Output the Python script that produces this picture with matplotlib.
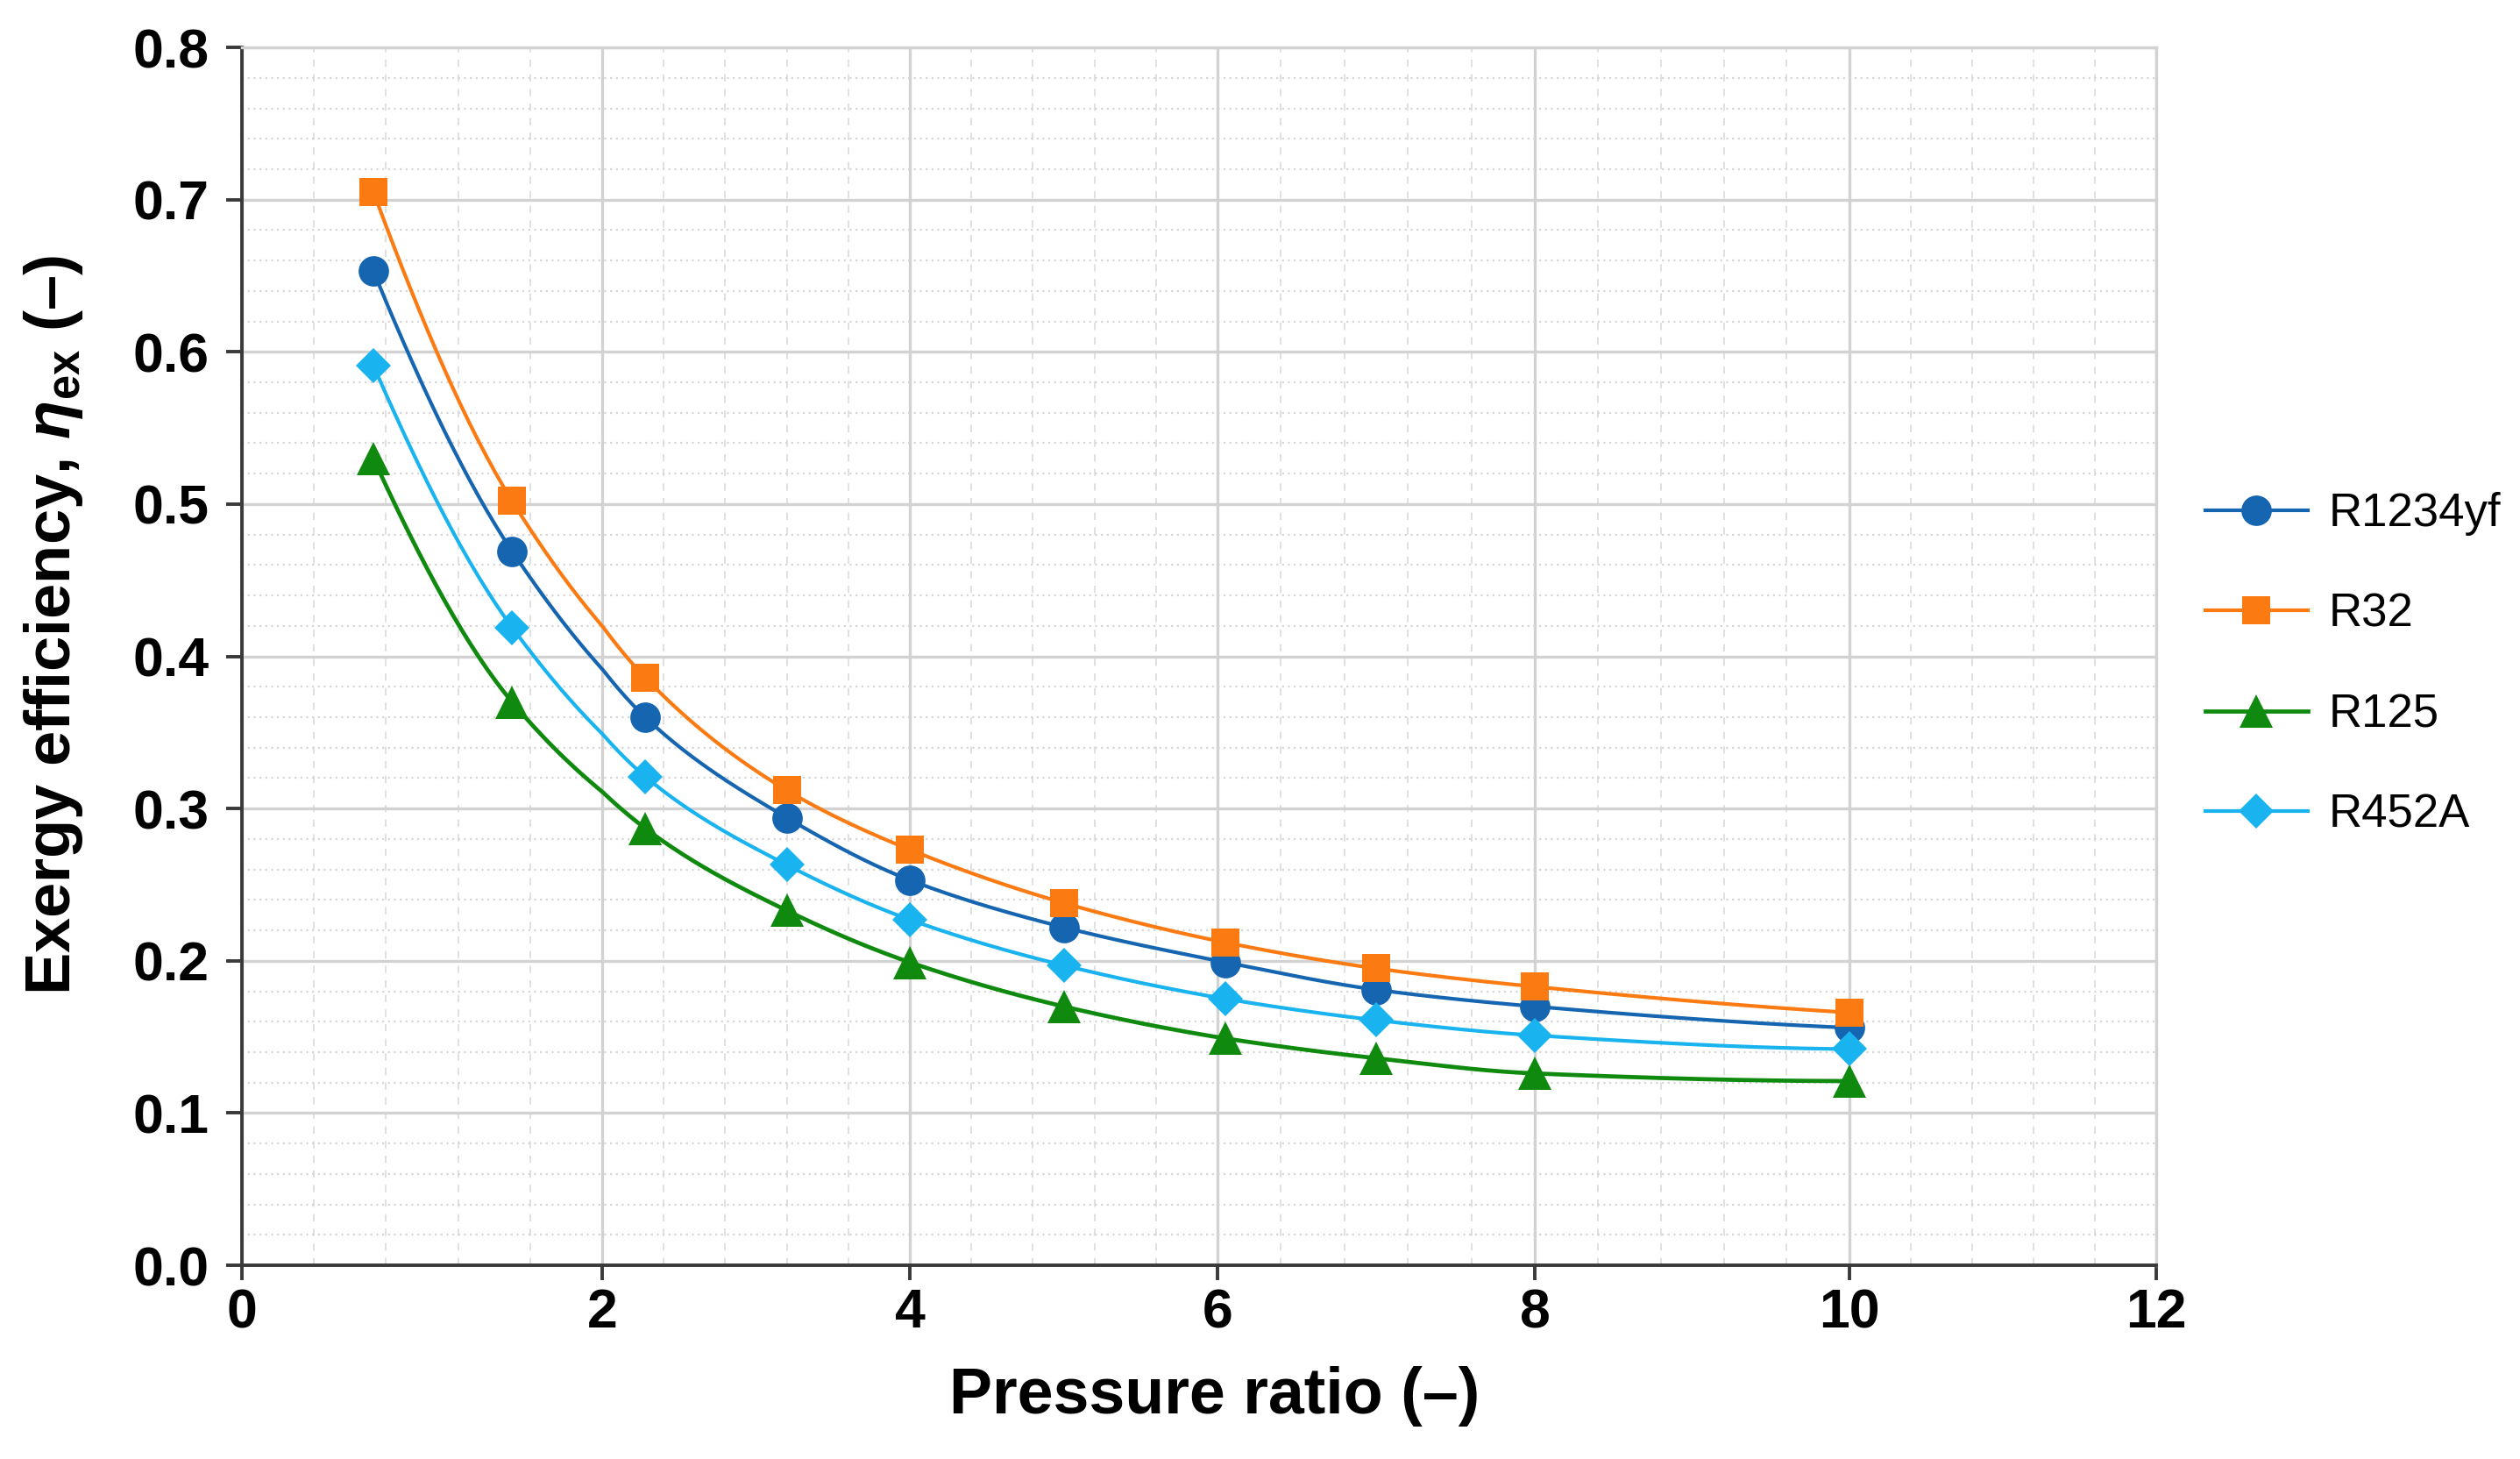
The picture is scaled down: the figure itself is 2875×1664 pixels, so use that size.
import numpy as np
import matplotlib
matplotlib.use("Agg")
import matplotlib.pyplot as plt
from matplotlib.ticker import MultipleLocator, FixedLocator, FormatStrFormatter

# data
pressure_ratio = [0.73, 1.5, 2.28, 3.2, 4.0, 5.0, 6.05, 7.0, 8.0, 10.0]
eff_r1234yf = [0.653, 0.469, 0.360, 0.294, 0.253, 0.222, 0.199, 0.181, 0.170, 0.156]
eff_r32 = [0.705, 0.502, 0.386, 0.312, 0.273, 0.238, 0.212, 0.195, 0.183, 0.166]
eff_r125 = [0.530, 0.370, 0.287, 0.233, 0.199, 0.170, 0.149, 0.136, 0.126, 0.121]
eff_r452a = [0.591, 0.419, 0.321, 0.263, 0.227, 0.197, 0.175, 0.161, 0.151, 0.142]

series_names = ["R1234yf", "R32", "R125", "R452A"]
series_vals = [eff_r1234yf, eff_r32, eff_r125, eff_r452a]
colors = ["#1565b0", "#fb7a12", "#0f8a0f", "#19b4f0"]
markers = ["o", "s", "^", "D"]
msizes = [25, 23, 28, 20]
lwidths = [3.0, 3.0, 3.4, 3.0]

# the original x axis is not evenly spaced (0-2 is wider than the rest)
x_knots = [0, 2, 4, 6, 8, 10, 12]
x_span = [0, 411, 762, 1113, 1475, 1834, 2184]

plt.rcParams["font.family"] = ["Liberation Sans", "DejaVu Sans"]
plt.rcParams["mathtext.fontset"] = "custom"
plt.rcParams["mathtext.rm"] = "Liberation Sans:bold"
plt.rcParams["mathtext.bf"] = "Liberation Sans:bold"
plt.rcParams["mathtext.it"] = "Liberation Sans:italic:bold"
plt.rcParams["mathtext.bfit"] = "Liberation Sans:italic:bold"


def fwd(x):
    return np.interp(x, x_knots, x_span, left=np.nan, right=np.nan)


def inv(u):
    return np.interp(u, x_span, x_knots, left=np.nan, right=np.nan)


# smooth line through the points (monotone cubic, like a smoothed excel line)
def smooth(x, y, n=400):
    x = np.asarray(x, float)
    y = np.asarray(y, float)
    h = np.diff(x)
    d = np.diff(y) / h
    m = np.zeros_like(y)
    for k in range(1, len(x) - 1):
        if d[k - 1] * d[k] > 0:
            w1 = 2 * h[k] + h[k - 1]
            w2 = h[k] + 2 * h[k - 1]
            m[k] = (w1 + w2) / (w1 / d[k - 1] + w2 / d[k])
    m0 = ((2 * h[0] + h[1]) * d[0] - h[0] * d[1]) / (h[0] + h[1])
    m[0] = m0 if np.sign(m0) == np.sign(d[0]) else 0
    mn = ((2 * h[-1] + h[-2]) * d[-1] - h[-1] * d[-2]) / (h[-1] + h[-2])
    m[-1] = mn if np.sign(mn) == np.sign(d[-1]) else 0
    xs = np.linspace(x[0], x[-1], n)
    idx = np.clip(np.searchsorted(x, xs) - 1, 0, len(x) - 2)
    t = (xs - x[idx]) / h[idx]
    h00 = 2 * t**3 - 3 * t**2 + 1
    h10 = t**3 - 2 * t**2 + t
    h01 = -2 * t**3 + 3 * t**2
    h11 = t**3 - t**2
    ys = h00 * y[idx] + h10 * h[idx] * m[idx] + h01 * y[idx + 1] + h11 * h[idx] * m[idx + 1]
    return xs, ys


fig = plt.figure(figsize=(28.75, 16.64), dpi=100)
ax = fig.add_axes([0.096, 0.1328, 0.7597, 0.8347])
ax.set_xscale("function", functions=(fwd, inv))

for name, vals, c, mk, ms, lw in zip(series_names, series_vals, colors, markers, msizes, lwidths):
    xs, ys = smooth(pressure_ratio, vals)
    ax.plot(xs, ys, color=c, lw=lw, zorder=3)
    ax.plot(pressure_ratio, vals, linestyle="none", marker=mk, markersize=ms,
            color=c, markeredgewidth=0, zorder=4)
    # legend handle
    ax.plot([], [], color=c, lw=lw, marker=mk, markersize=ms, markeredgewidth=0, label=name)

ax.set_xlim(0, 12)
ax.set_ylim(0, 0.8)
ax.xaxis.set_major_locator(FixedLocator(x_knots))
ax.xaxis.set_minor_locator(FixedLocator(np.arange(0, 12.01, 0.4)))
ax.xaxis.set_major_formatter(FormatStrFormatter("%d"))
ax.xaxis.set_minor_formatter(plt.NullFormatter())
ax.yaxis.set_major_locator(MultipleLocator(0.1))
ax.yaxis.set_minor_locator(MultipleLocator(0.02))
ax.yaxis.set_major_formatter(FormatStrFormatter("%.1f"))

ax.set_axisbelow(True)
ax.grid(which="major", color="#d2d2d2", lw=2.4)
ax.xaxis.grid(which="minor", color="#dadada", lw=1.2, linestyle=(0, (5, 5)))
ax.yaxis.grid(which="minor", color="#d6d6d6", lw=1.6, linestyle=(0, (1, 2)))

for s in ["top", "right"]:
    ax.spines[s].set_color("#d2d2d2")
    ax.spines[s].set_linewidth(2.4)
for s in ["left", "bottom"]:
    ax.spines[s].set_color("#3a3a3a")
    ax.spines[s].set_linewidth(2.8)

ax.tick_params(axis="y", which="major", direction="out", length=13, width=2.8,
               color="#3a3a3a", pad=14, labelsize=45)
ax.tick_params(axis="x", which="major", direction="out", length=12, width=2.8,
               color="#3a3a3a", pad=6, labelsize=45)
ax.tick_params(which="minor", length=0)
for lbl in ax.get_xticklabels() + ax.get_yticklabels():
    lbl.set_fontweight("bold")

ax.set_xlabel("Pressure ratio (–)", fontsize=53, fontweight="bold")
ax.xaxis.set_label_coords(0.508, -0.083)
ax.set_ylabel(r"Exergy efficiency, $\boldsymbol{\eta}_{\mathbf{ex}}$ (–)", fontsize=52, fontweight="bold")
ax.yaxis.set_label_coords(-0.082, 0.526)

ax.legend(loc="center left", bbox_to_anchor=(2490 / 2875, 1 - 758 / 1664),
          bbox_transform=fig.transFigure, frameon=False, fontsize=38,
          handlelength=2.2, handletextpad=0.45, labelspacing=1.22, borderpad=0)

fig.savefig("out.png", dpi=100, facecolor="white")
